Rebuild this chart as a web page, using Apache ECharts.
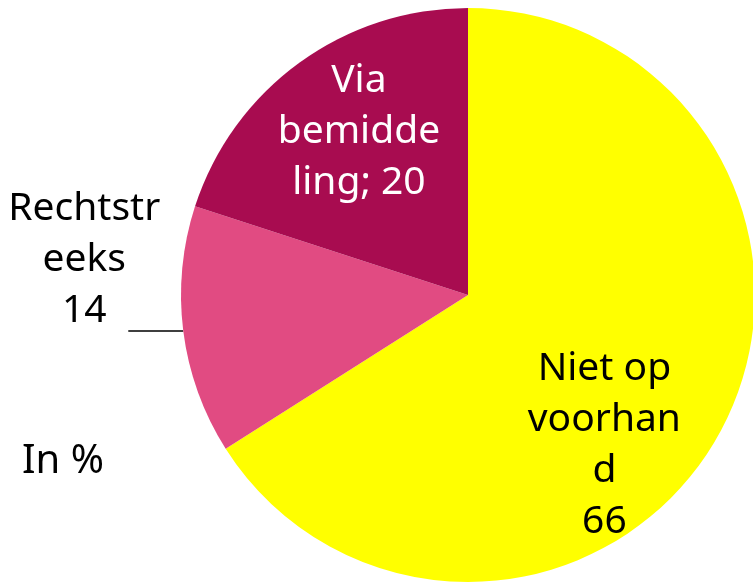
<!DOCTYPE html>
<html>
<head>
<meta charset="utf-8">
<script src="https://cdn.jsdelivr.net/npm/echarts@6/dist/echarts.min.js"></script>
<style>
  html, body { margin: 0; padding: 0; background: #fff; }
  #chart { width: 753px; height: 582px; }
</style>
</head>
<body>
<div id="chart"></div>
<script>
"use strict";
// data
var categories = ["Niet op voorhand", "Rechtstreeks", "Via bemiddeling"];
var values = [66, 14, 20];
var labelLines = [["Niet op", "voorhan", "d", "66"], ["Rechtstr", "eeks", "14"], ["Via", "bemidde", "ling; 20"]];
var colors = ["#FFFF00", "#E14B82", "#A80C50"];
var textColors = ["#000", "#000", "#fff"];
// label nudges (dx, dy)
var labelShift = [[8, 80], [46, -71], [-23, -45]];

var FONT = "Noto Sans";

function initChart() {
    var chart = echarts.init(document.getElementById("chart"), null, { renderer: "canvas" });
    var data = categories.map(function (name, i) {
        var outside = i === 1;
        return {
            name: name,
            value: values[i],
            itemStyle: { color: colors[i] },
            label: {
                position: outside ? "outside" : "inside",
                formatter: labelLines[i].map(function (s) { return "{a|" + s + "}"; }).join("\n"),
                rich: {
                    a: {
                        fontFamily: FONT, fontSize: 39, lineHeight: 51,
                        color: textColors[i], width: 170, align: "center"
                    }
                }
            },
            labelLine: { show: outside }
        };
    });

    var option = {
        animation: false,
        title: {
            text: "In %", left: 17, top: 437,
            textStyle: { fontFamily: FONT, fontSize: 40, fontWeight: "normal", color: "#000" }
        },
        series: [{
            type: "pie",
            center: [468, 295],
            radius: 287,
            startAngle: 90,
            clockwise: true,
            avoidLabelOverlap: false,
            label: { show: true },
            labelLine: {
                length: 1, length2: 54, smooth: false,
                lineStyle: { color: "#000", width: 1.5 }
            },
            labelLayout: function (params) {
                var s = labelShift[params.dataIndex];
                var res = { dx: s[0], dy: s[1] };
                if (params.labelLinePoints) res.labelLinePoints = params.labelLinePoints;
                return res;
            },
            data: data
        }]
    };
    chart.setOption(option);
}

initChart();
</script>
</body>
</html>
